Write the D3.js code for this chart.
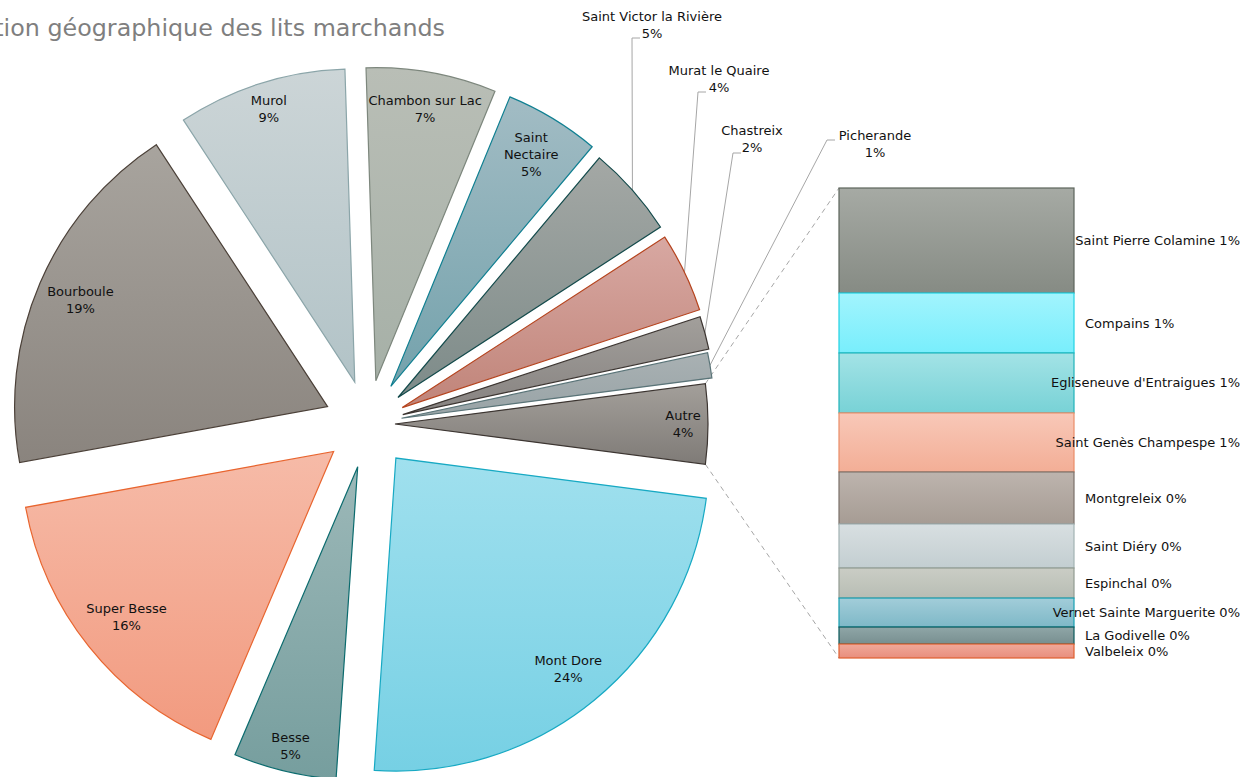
<!DOCTYPE html>
<html>
<head>
<meta charset="utf-8">
<script src="https://cdn.jsdelivr.net/npm/d3@7"></script>
<style>
  body { margin: 0; background: #fff; }
  text { font-family: "DejaVu Sans", sans-serif; }
</style>
</head>
<body>
<div id="chart"></div>
<script>
// communes of the main pie, clockwise from the "Autre" slice
var communes = ["Mont Dore", "Besse", "Super Besse", "Bourboule", "Murol", "Chambon sur Lac",
  "Saint Nectaire", "Saint Victor la Rivière", "Murat le Quaire", "Chastreix", "Picherande"];
var communeShares = [24.0, 5.3, 15.7, 18.6, 8.7, 6.7, 4.9, 4.7, 4.1, 1.7, 1.3];

// communes grouped in "Autre" (the bar)
var autres = ["Saint Pierre Colamine", "Compains", "Egliseneuve d'Entraigues", "Saint Genès Champespe",
  "Montgreleix", "Saint Diéry", "Espinchal", "Vernet Sainte Marguerite", "La Godivelle", "Valbeleix"];
var autreShares = [0.916, 0.523, 0.523, 0.515, 0.454, 0.384, 0.262, 0.253, 0.148, 0.122];

var titleText = "Répartition géographique des lits marchands";

// styles [top, bottom, stroke]
var sliceColors = [
  ["#a0e0ee", "#76d0e4", "#17a9c3"],
  ["#9cb8b8", "#769e9e", "#0b6b6e"],
  ["#f6bba8", "#f29a7f", "#e8652f"],
  ["#a8a49e", "#8a847e", "#4b4038"],
  ["#ccd5d7", "#b2c3c7", "#8ba5a9"],
  ["#b9beb6", "#a6b0a7", "#7d877d"],
  ["#a2bcc4", "#74a2ac", "#0f7f91"],
  ["#a4a8a5", "#7d8b89", "#134a4b"],
  ["#d8a8a2", "#c08479", "#b5431d"],
  ["#a29f9b", "#868280", "#3c3531"],
  ["#a9b1b3", "#98a3a6", "#5a7478"],
  ["#a39f9a", "#7f7b77", "#3c3531"]
];
var explode = [44, 44, 44, 44, 44, 44, 44, 40, 38, 36, 34, 27];
var barColors = [
  ["#a6aaa4", "#868b84", "#5d655c"],
  ["#a2f4fd", "#78eefc", "#22d3e3"],
  ["#a3e3e6", "#78d2d6", "#21b3ba"],
  ["#f8c8b8", "#f3ae96", "#e98d68"],
  ["#bdb4ae", "#a69c94", "#7b716a"],
  ["#d8dfe1", "#c3ced1", "#a2b2b3"],
  ["#cacdc5", "#b8bdb4", "#929b92"],
  ["#a2cdd9", "#7eb8c7", "#16a0b2"],
  ["#8fa6a7", "#788f90", "#0b5a5c"],
  ["#f1a99a", "#e88e7d", "#e0602f"]
];
// callouts placed outside the pie (leader bend point and text centre)
var callouts = {
  "Saint Victor la Rivière": {bx: 632, by: 38, tx: 652, ty: 16},
  "Murat le Quaire": {bx: 698, by: 92, tx: 719, ty: 70},
  "Chastreix": {bx: 733, by: 153, tx: 752, ty: 130},
  "Picherande": {bx: 827, by: 140, tx: 875, ty: 135}
};

var width = 1250, height = 777;
var cx = 368, cy = 424, radius = 313;
var lineH = 17, fontSize = 13;

var svg = d3.select("#chart").append("svg")
  .attr("width", width).attr("height", height);
var defs = svg.append("defs");

function grad(id, c) {
  var g = defs.append("linearGradient").attr("id", id)
    .attr("x1", 0).attr("y1", 0).attr("x2", 0).attr("y2", 1);
  g.append("stop").attr("offset", "0%").attr("stop-color", c[0]);
  g.append("stop").attr("offset", "100%").attr("stop-color", c[1]);
  return "url(#" + id + ")";
}

var autreTotal = d3.sum(autreShares);
var data = communes.map(function(n, i) { return {name: n, value: communeShares[i]}; });
data.push({name: "Autre", value: autreTotal});
var total = d3.sum(data, function(d) { return d.value; });
var pct = function(v) { return Math.round(v / total * 100) + "%"; };

var a0 = Math.PI / 2 + (autreTotal / total) * Math.PI;
var pie = d3.pie().sort(null).value(function(d) { return d.value; })
  .startAngle(a0).endAngle(a0 + 2 * Math.PI);
var arcs = pie(data);
var arc = d3.arc().innerRadius(0).outerRadius(radius);

function dir(a) { return [Math.sin(a), -Math.cos(a)]; }
arcs.forEach(function(d, i) {
  var m = dir((d.startAngle + d.endAngle) / 2);
  d.ox = cx + m[0] * explode[i];
  d.oy = cy + m[1] * explode[i];
  d.mid = m;
});

// title (starts outside the frame, as in the original)
svg.append("text").attr("x", 445).attr("y", 36)
  .attr("text-anchor", "end").attr("font-size", 23.8).attr("fill", "#7f7f7f")
  .text(titleText);

// bar of "Autre"
var bx0 = 839, bx1 = 1074;
var y = d3.scaleLinear().domain([0, autreTotal]).range([188, 658]);
var stack = [], acc = 0;
autreShares.forEach(function(v, i) { stack.push({name: autres[i], value: v, y0: acc, y1: acc + v}); acc += v; });

// connectors (drawn under the slices)
var autreArc = arcs[arcs.length - 1];
var pTop = [autreArc.ox + radius * dir(autreArc.startAngle)[0], autreArc.oy + radius * dir(autreArc.startAngle)[1]];
var pBot = [autreArc.ox + radius * dir(autreArc.endAngle)[0], autreArc.oy + radius * dir(autreArc.endAngle)[1]];
svg.append("line").attr("x1", pTop[0]).attr("y1", pTop[1]).attr("x2", bx0).attr("y2", y(0))
  .attr("stroke", "#a6a6a6").attr("stroke-dasharray", "5,4");
svg.append("line").attr("x1", pBot[0]).attr("y1", pBot[1]).attr("x2", bx0).attr("y2", y(autreTotal))
  .attr("stroke", "#a6a6a6").attr("stroke-dasharray", "5,4");

// leader lines
arcs.forEach(function(d) {
  var c = callouts[d.data.name];
  if (!c) return;
  var sx = d.ox + d.mid[0] * radius, sy = d.oy + d.mid[1] * radius;
  svg.append("polyline")
    .attr("points", [[sx, sy], [c.bx, c.by], [c.bx + 8, c.by]].map(function(p) { return p.join(","); }).join(" "))
    .attr("fill", "none").attr("stroke", "#a6a6a6").attr("stroke-width", 1);
});

// slices
svg.append("g").selectAll("path").data(arcs).enter().append("path")
  .attr("transform", function(d) { return "translate(" + d.ox + "," + d.oy + ")"; })
  .attr("d", arc)
  .attr("fill", function(d, i) { return grad("s" + i, sliceColors[i]); })
  .attr("stroke", function(d, i) { return sliceColors[i][2]; })
  .attr("stroke-width", 1.2);

// labels
function block(x, yTop, lines) {
  var t = svg.append("text").attr("font-size", fontSize).attr("fill", "#111").attr("text-anchor", "middle");
  lines.forEach(function(l, k) {
    t.append("tspan").attr("x", x).attr("y", yTop + k * lineH).attr("dy", "0.35em").text(l);
  });
  return t;
}
arcs.forEach(function(d) {
  var name = d.data.name;
  var c = callouts[name];
  if (c) {
    block(c.tx, c.ty, [name, pct(d.value)]);
    return;
  }
  var lines = name === "Saint Nectaire" ? ["Saint", "Nectaire", pct(d.value)] : [name, pct(d.value)];
  var t = block(0, 0, lines);
  var bb = t.node().getBBox();
  var hw = bb.width / 2 + 2, hh = lines.length * lineH / 2;
  // "inside end": push the label box outward until a corner nears the rim
  var lr = 0;
  for (var s = 0; s < radius; s += 1) {
    var px = d.mid[0] * s, py = d.mid[1] * s;
    var far = d3.max([[-1, -1], [1, -1], [-1, 1], [1, 1]], function(k) {
      return Math.hypot(px + k[0] * hw, py + k[1] * hh);
    });
    if (far > radius - 4) break;
    lr = s;
  }
  var lx = d.ox + d.mid[0] * lr, ly = d.oy + d.mid[1] * lr;
  t.selectAll("tspan")
    .attr("x", lx)
    .attr("y", function(_, k) { return ly - (lines.length - 1) * lineH / 2 + k * lineH; });
});

// bar segments
var bar = svg.append("g");
bar.selectAll("rect").data(stack).enter().append("rect")
  .attr("x", bx0).attr("width", bx1 - bx0)
  .attr("y", function(d) { return y(d.y0); })
  .attr("height", function(d) { return y(d.y1) - y(d.y0); })
  .attr("fill", function(d, i) { return grad("b" + i, barColors[i]); })
  .attr("stroke", function(d, i) { return barColors[i][2]; })
  .attr("stroke-width", 1.2);

// bar labels
stack.forEach(function(d) {
  var t = svg.append("text").attr("font-size", fontSize).attr("fill", "#111")
    .text(d.name + " " + pct(d.value));
  var w = t.node().getComputedTextLength();
  var mid = (y(d.y0) + y(d.y1)) / 2;
  t.attr("x", Math.min(1085, 1240 - w)).attr("y", mid).attr("dy", "0.35em");
});
</script>
</body>
</html>
